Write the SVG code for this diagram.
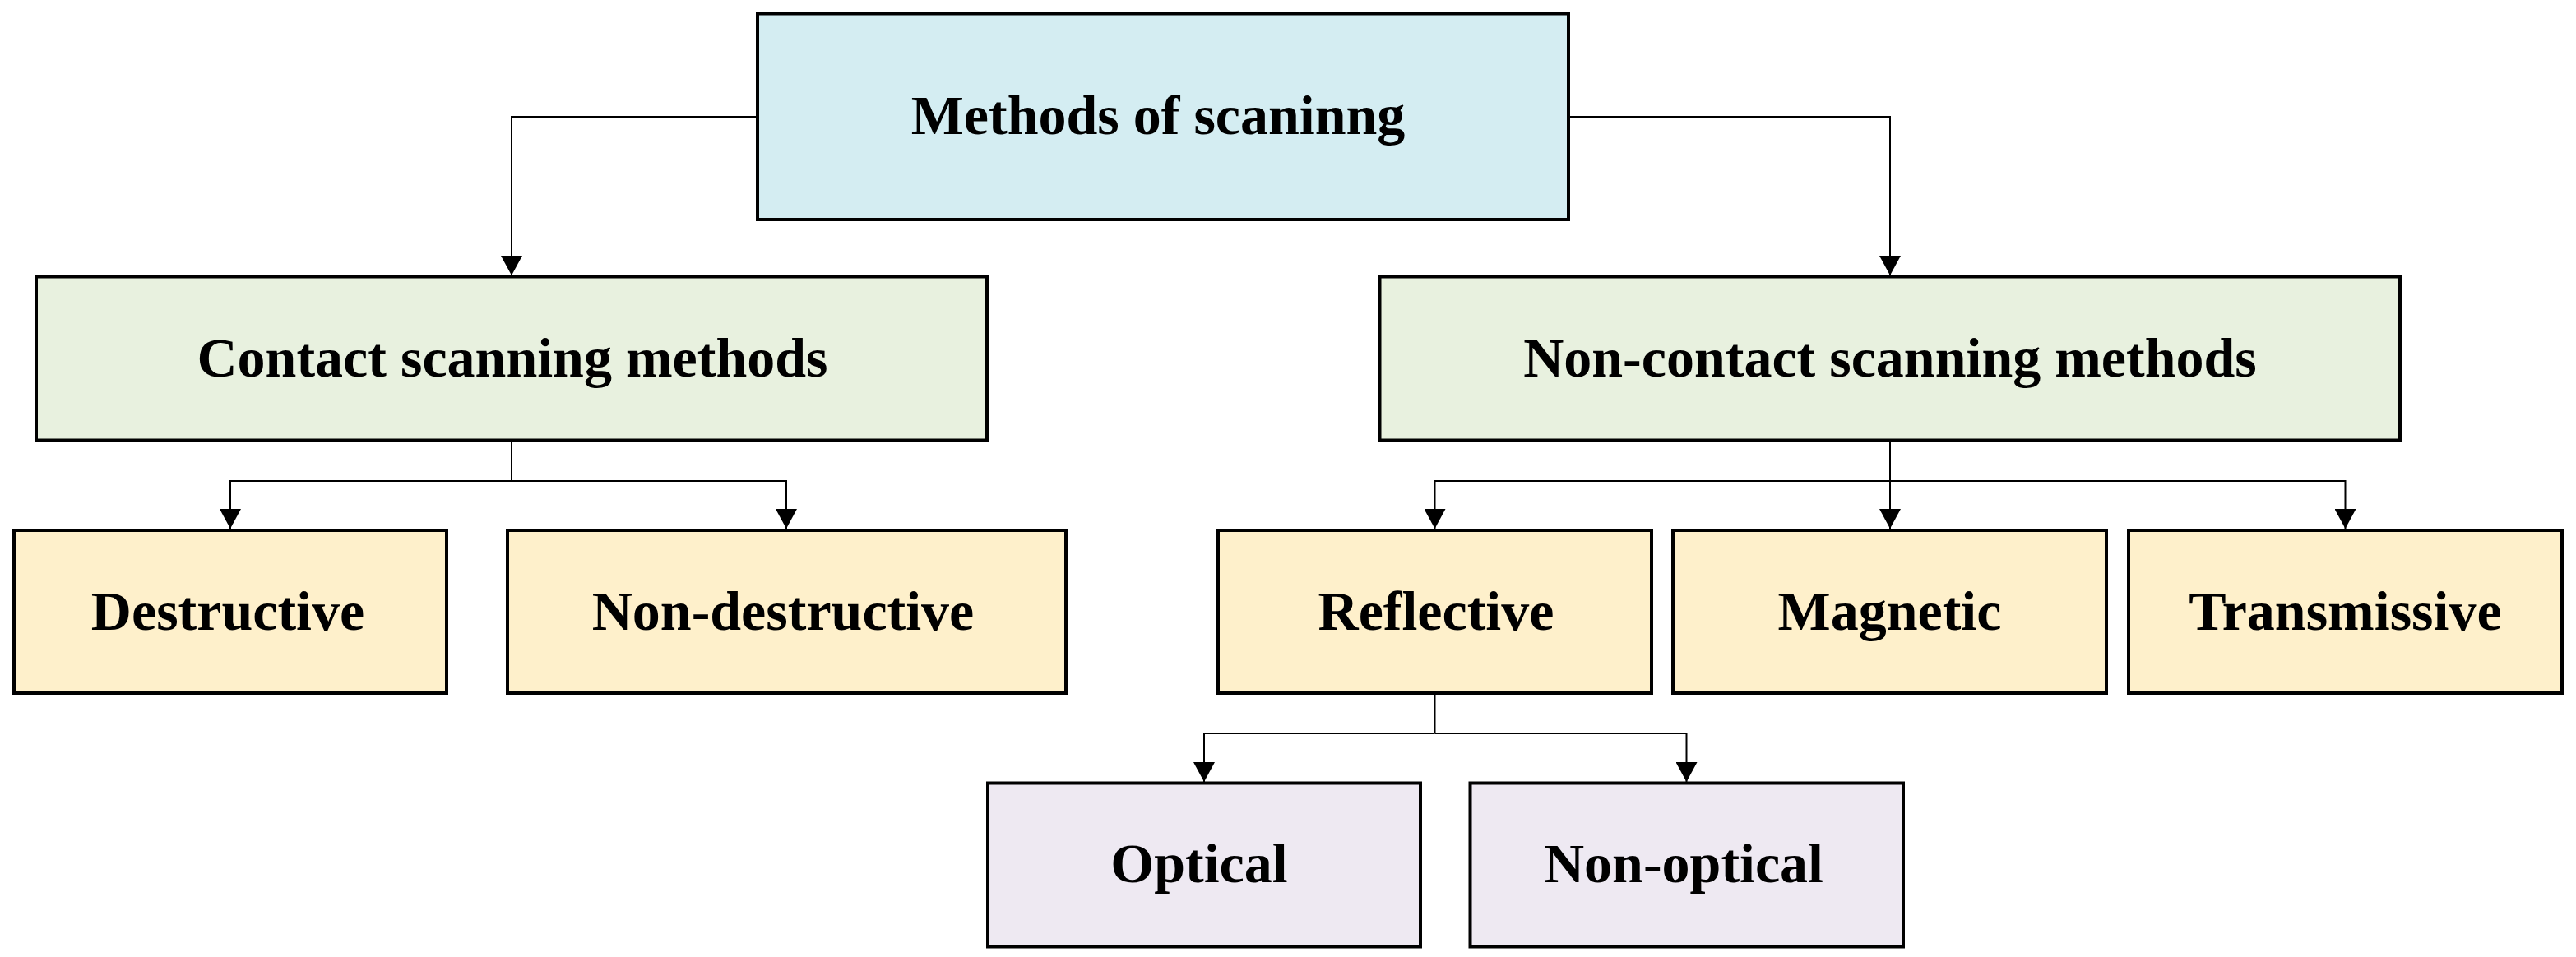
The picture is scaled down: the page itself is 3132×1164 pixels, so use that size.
<svg xmlns="http://www.w3.org/2000/svg" width="3132" height="1164" viewBox="0 0 3132 1164">
<defs>
<style>
.box{stroke:#000;stroke-width:4}
.l1{fill:#D4EDF2}
.l2{fill:#E8F1DF}
.l3{fill:#FEF0CB}
.l4{fill:#EEE9F2}
.t{font-family:"Liberation Serif","Times New Roman",serif;font-weight:bold;font-size:68px;fill:#000;text-anchor:middle}
.c{fill:none;stroke:#000;stroke-width:2}
</style>
<marker id="ah" viewBox="0 0 24 26" refX="24" refY="13" markerWidth="24" markerHeight="26" markerUnits="userSpaceOnUse" orient="auto">
<path d="M0,0 L24,13 L0,26 Z" fill="#000"/>
</marker>
</defs>
<rect width="3132" height="1164" fill="#fff"/>
<g id="connectors">
<path class="c" d="M921 142 H622 V335" marker-end="url(#ah)"/>
<path class="c" d="M1907 142 H2298 V335" marker-end="url(#ah)"/>
<path class="c" d="M622 537 V585"/>
<path class="c" d="M622 585 H280 V643" marker-end="url(#ah)"/>
<path class="c" d="M622 585 H956 V643" marker-end="url(#ah)"/>
<path class="c" d="M2298 537 V643" marker-end="url(#ah)"/>
<path class="c" d="M2298 585 H1744.5 V643" marker-end="url(#ah)"/>
<path class="c" d="M2298 585 H2851.5 V643" marker-end="url(#ah)"/>
<path class="c" d="M1744.5 845 V892"/>
<path class="c" d="M1744.5 892 H1464 V951" marker-end="url(#ah)"/>
<path class="c" d="M1744.5 892 H2050.5 V951" marker-end="url(#ah)"/>
</g>
<g id="methods">
<rect class="box l1" x="921" y="16.5" width="986" height="250.5"/>
<text class="t" x="1408" y="163">Methods of scaninng</text>
</g>
<g id="contact">
<rect class="box l2" x="44" y="336.5" width="1156" height="199"/>
<text class="t" x="623" y="458">Contact scanning methods</text>
</g>
<g id="noncontact">
<rect class="box l2" x="1677.5" y="336.5" width="1240.5" height="199"/>
<text class="t" x="2298" y="458">Non-contact scanning methods</text>
</g>
<g id="destructive">
<rect class="box l3" x="17" y="645" width="526" height="198"/>
<text class="t" x="277" y="766">Destructive</text>
</g>
<g id="nondestructive">
<rect class="box l3" x="617" y="645" width="679" height="198"/>
<text class="t" x="952" y="766">Non-destructive</text>
</g>
<g id="reflective">
<rect class="box l3" x="1481" y="645" width="527" height="198"/>
<text class="t" x="1746" y="766">Reflective</text>
</g>
<g id="magnetic">
<rect class="box l3" x="2034" y="645" width="527" height="198"/>
<text class="t" x="2297.5" y="766">Magnetic</text>
</g>
<g id="transmissive">
<rect class="box l3" x="2588" y="645" width="527" height="198"/>
<text class="t" x="2851.5" y="766">Transmissive</text>
</g>
<g id="optical">
<rect class="box l4" x="1201" y="952.5" width="526" height="199"/>
<text class="t" x="1458" y="1073">Optical</text>
</g>
<g id="nonoptical">
<rect class="box l4" x="1787.5" y="952.5" width="526.5" height="199"/>
<text class="t" x="2047" y="1073">Non-optical</text>
</g>
</svg>
